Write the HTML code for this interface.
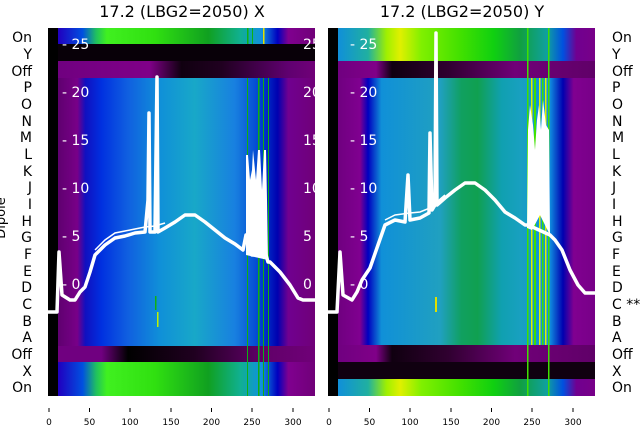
<!DOCTYPE html><html><head><style>body{margin:0;background:#fff}svg{display:block}text{font-family:"DejaVu Sans","Liberation Sans",sans-serif}</style></head><body>
<svg width="640" height="440" viewBox="0 0 640 440" xmlns="http://www.w3.org/2000/svg">
<defs>
<clipPath id="cl"><rect x="48" y="28" width="267" height="368"/></clipPath>
<linearGradient id="lg" x1="48" x2="315" gradientUnits="userSpaceOnUse">
<stop offset="0.04" stop-color="#600070"/><stop offset="0.11" stop-color="#780088"/><stop offset="0.14" stop-color="#1010c0"/><stop offset="0.2" stop-color="#0030e0"/><stop offset="0.3" stop-color="#1060e0"/><stop offset="0.42" stop-color="#1090d8"/><stop offset="0.55" stop-color="#18a8c8"/><stop offset="0.7" stop-color="#1880e0"/><stop offset="0.8" stop-color="#0040d0"/><stop offset="0.86" stop-color="#0000b0"/><stop offset="0.9" stop-color="#700090"/><stop offset="1" stop-color="#700078"/></linearGradient>
<linearGradient id="lgreen" x1="48" x2="315" gradientUnits="userSpaceOnUse">
<stop offset="0.04" stop-color="#2000c0"/><stop offset="0.13" stop-color="#0050e0"/><stop offset="0.18" stop-color="#20c060"/><stop offset="0.22" stop-color="#40f020"/><stop offset="0.4" stop-color="#30e010"/><stop offset="0.6" stop-color="#10a020"/><stop offset="0.72" stop-color="#10b090"/><stop offset="0.8" stop-color="#1090e0"/><stop offset="0.86" stop-color="#0000c0"/><stop offset="0.9" stop-color="#800090"/><stop offset="1" stop-color="#700078"/></linearGradient>
<linearGradient id="loff" x1="48" x2="315" gradientUnits="userSpaceOnUse">
<stop offset="0.04" stop-color="#700080"/><stop offset="0.38" stop-color="#800088"/><stop offset="0.5" stop-color="#100010"/><stop offset="0.65" stop-color="#200020"/><stop offset="0.9" stop-color="#600070"/><stop offset="1" stop-color="#700078"/></linearGradient>
<linearGradient id="loff2" x1="48" x2="315" gradientUnits="userSpaceOnUse">
<stop offset="0.04" stop-color="#700080"/><stop offset="0.2" stop-color="#700080"/><stop offset="0.3" stop-color="#000000"/><stop offset="0.55" stop-color="#200020"/><stop offset="0.8" stop-color="#600068"/><stop offset="1" stop-color="#700078"/></linearGradient>
<linearGradient id="rg" x1="328" x2="595" gradientUnits="userSpaceOnUse">
<stop offset="0.04" stop-color="#700080"/><stop offset="0.12" stop-color="#800090"/><stop offset="0.15" stop-color="#0000c0"/><stop offset="0.2" stop-color="#1090d8"/><stop offset="0.42" stop-color="#20a0c0"/><stop offset="0.5" stop-color="#10a060"/><stop offset="0.56" stop-color="#10a050"/><stop offset="0.65" stop-color="#10a0b0"/><stop offset="0.72" stop-color="#18a0c0"/><stop offset="0.83" stop-color="#1090e0"/><stop offset="0.88" stop-color="#0000b0"/><stop offset="0.92" stop-color="#800090"/><stop offset="1" stop-color="#780088"/></linearGradient>
<linearGradient id="rgreen" x1="328" x2="595" gradientUnits="userSpaceOnUse">
<stop offset="0.04" stop-color="#1090d8"/><stop offset="0.15" stop-color="#20b0a0"/><stop offset="0.22" stop-color="#a0f000"/><stop offset="0.27" stop-color="#e0f000"/><stop offset="0.35" stop-color="#80f000"/><stop offset="0.5" stop-color="#40e000"/><stop offset="0.62" stop-color="#10d010"/><stop offset="0.72" stop-color="#10a040"/><stop offset="0.82" stop-color="#10a0a0"/><stop offset="0.88" stop-color="#0050e0"/><stop offset="0.93" stop-color="#700090"/><stop offset="1" stop-color="#780088"/></linearGradient>
<linearGradient id="roff" x1="328" x2="595" gradientUnits="userSpaceOnUse">
<stop offset="0.04" stop-color="#700080"/><stop offset="0.18" stop-color="#800088"/><stop offset="0.24" stop-color="#100010"/><stop offset="0.45" stop-color="#300030"/><stop offset="0.7" stop-color="#700078"/><stop offset="1" stop-color="#600068"/></linearGradient>
</defs>
<text x="182" y="17" font-size="16" text-anchor="middle">17.2 (LBG2=2050) X</text>
<text x="462" y="17" font-size="16" text-anchor="middle">17.2 (LBG2=2050) Y</text>
<!-- left panel -->
<rect x="48" y="28" width="267" height="368" fill="url(#lg)"/>
<rect x="48" y="28" width="267" height="16" fill="url(#lgreen)"/>
<rect x="58" y="44" width="257" height="17" fill="#080008"/>
<rect x="58" y="61" width="257" height="17" fill="url(#loff)"/>
<rect x="58" y="346" width="257" height="16" fill="url(#loff2)"/>
<rect x="48" y="362" width="267" height="34" fill="url(#lgreen)"/>
<g fill="#10b010"><rect x="247" y="28" width="1.5" height="16"/><rect x="252" y="28" width="1" height="16"/><rect x="258" y="78" width="1.5" height="318"/><rect x="263" y="78" width="1" height="318"/><rect x="268" y="78" width="1" height="318"/><rect x="247" y="78" width="1" height="318"/><rect x="155" y="296" width="1.5" height="14"/></g>
<rect x="263" y="28" width="1.5" height="16" fill="#e0e000"/>
<rect x="157" y="312" width="1.5" height="15" fill="#c0f000"/>
<rect x="48" y="28" width="10" height="368" fill="#000"/>
<g fill="#fff" font-size="14"><text x="62" y="49">- 25</text><text x="62" y="97">- 20</text><text x="62" y="145">- 15</text><text x="62" y="193">- 10</text><text x="62" y="241">- 5</text><text x="62" y="289">- 0</text></g>
<g fill="#fff" font-size="14" clip-path="url(#cl)"><text x="303" y="49">25</text><text x="303" y="97">20</text><text x="303" y="145">15</text><text x="303" y="193">10</text><text x="303" y="241">5</text><text x="303" y="289">0</text></g>
<polyline fill="none" stroke="#fff" stroke-width="3.5" stroke-linejoin="round" points="48,312 57,312 59,252 62,295 70,300 75,300 80,292 85,287 90,272 95,255 100,250 105,245 115,238 125,236 135,233 145,232 148,200 149,113 150,232 155,232 157,77 158,232 165,228 175,222 185,215 195,215 205,222 215,230 225,238 235,244 243,250 246,235 248,240 252,255 266,255 268,262 270,262 280,272 290,285 298,298 303,300 315,300"/>
<polygon fill="#fff" points="246,255 246,155 248,155 250,180 252,170 253,150 256,180 258,150 260,150 262,190 264,150 266,150 267,200 268,260"/>
<polyline fill="none" stroke="#fff" stroke-width="1.5" points="95,250 105,240 115,233 125,231 135,229 145,227 155,226 165,223"/>
<!-- right panel -->
<rect x="328" y="28" width="267" height="368" fill="url(#rg)"/>
<rect x="328" y="28" width="267" height="33" fill="url(#rgreen)"/>
<rect x="328" y="61" width="267" height="17" fill="url(#roff)"/>
<rect x="328" y="345" width="267" height="17" fill="url(#roff)"/>
<rect x="338" y="362" width="257" height="17" fill="#100010"/>
<rect x="328" y="379" width="267" height="17" fill="url(#rgreen)"/>
<g fill="#40e000"><rect x="527" y="28" width="1.5" height="368"/><rect x="534" y="78" width="2" height="267"/><rect x="542" y="78" width="1.5" height="267"/><rect x="548" y="28" width="1.5" height="368"/></g>
<g fill="#e0f000"><rect x="531" y="78" width="1.5" height="267"/><rect x="539" y="78" width="1.5" height="267"/><rect x="545" y="78" width="1.5" height="267"/></g>
<rect x="435" y="297" width="2" height="15" fill="#e0e000"/>
<rect x="328" y="28" width="10" height="368" fill="#000"/>
<g fill="#fff" font-size="14"><text x="350" y="49">- 25</text><text x="350" y="97">- 20</text><text x="350" y="145">- 15</text><text x="350" y="193">- 10</text><text x="350" y="241">- 5</text><text x="350" y="289">- 0</text></g>
<polyline fill="none" stroke="#fff" stroke-width="3.5" stroke-linejoin="round" points="328,312 337,312 340,252 343,295 352,300 357,292 362,280 370,268 378,245 385,225 395,220 405,222 408,175 410,220 420,218 429,213 430,133 432,210 435,205 436,33 437,205 445,198 455,190 465,183 475,183 485,190 495,200 505,212 515,218 525,225 528,225 550,235 555,240 562,250 570,270 578,285 585,293 595,293"/>
<polygon fill="#fff" points="527,228 528,130 530,105 533,125 535,150 537,120 539,105 541,130 543,100 546,125 549,130 550,235 540,215 532,230"/>
<polyline fill="none" stroke="#fff" stroke-width="1.5" points="385,220 395,215 410,213 420,212 430,208 445,195"/>
<!-- left labels -->
<g font-size="14" text-anchor="end"><text x="32" y="42">On</text><text x="32" y="59">Y</text><text x="32" y="76">Off</text><text x="32" y="92">P</text><text x="32" y="109">O</text><text x="32" y="126">N</text><text x="32" y="142">M</text><text x="32" y="159">L</text><text x="32" y="176">K</text><text x="32" y="192">J</text><text x="32" y="209">I</text><text x="32" y="226">H</text><text x="32" y="242">G</text><text x="32" y="259">F</text><text x="32" y="276">E</text><text x="32" y="292">D</text><text x="32" y="309">C</text><text x="32" y="326">B</text><text x="32" y="342">A</text><text x="32" y="359">Off</text><text x="32" y="376">X</text><text x="32" y="392">On</text></g>
<g font-size="14"><text x="612" y="42">On</text><text x="612" y="59">Y</text><text x="612" y="76">Off</text><text x="612" y="92">P</text><text x="612" y="109">O</text><text x="612" y="126">N</text><text x="612" y="142">M</text><text x="612" y="159">L</text><text x="612" y="176">K</text><text x="612" y="192">J</text><text x="612" y="209">I</text><text x="612" y="226">H</text><text x="612" y="242">G</text><text x="612" y="259">F</text><text x="612" y="276">E</text><text x="612" y="292">D</text><text x="612" y="309">C **</text><text x="612" y="326">B</text><text x="612" y="342">A</text><text x="612" y="359">Off</text><text x="612" y="376">X</text><text x="612" y="392">On</text></g>
<text transform="translate(5,218) rotate(-90)" font-size="13" text-anchor="middle">Dipole</text>
<!-- x ticks -->
<g stroke="#000" stroke-width="1"><line x1="49" y1="408" x2="49" y2="412"/><line x1="89.5" y1="408" x2="89.5" y2="412"/><line x1="130" y1="408" x2="130" y2="412"/><line x1="171" y1="408" x2="171" y2="412"/><line x1="211.5" y1="408" x2="211.5" y2="412"/><line x1="252" y1="408" x2="252" y2="412"/><line x1="293" y1="408" x2="293" y2="412"/>
<line x1="329" y1="408" x2="329" y2="412"/><line x1="369.5" y1="408" x2="369.5" y2="412"/><line x1="410" y1="408" x2="410" y2="412"/><line x1="451" y1="408" x2="451" y2="412"/><line x1="491.5" y1="408" x2="491.5" y2="412"/><line x1="532" y1="408" x2="532" y2="412"/><line x1="573" y1="408" x2="573" y2="412"/></g>
<g font-size="9" text-anchor="middle"><text x="49" y="425">0</text><text x="89.5" y="425">50</text><text x="130" y="425">100</text><text x="171" y="425">150</text><text x="211.5" y="425">200</text><text x="252" y="425">250</text><text x="293" y="425">300</text>
<text x="329" y="425">0</text><text x="369.5" y="425">50</text><text x="410" y="425">100</text><text x="451" y="425">150</text><text x="491.5" y="425">200</text><text x="532" y="425">250</text><text x="573" y="425">300</text></g>
</svg></body></html>
